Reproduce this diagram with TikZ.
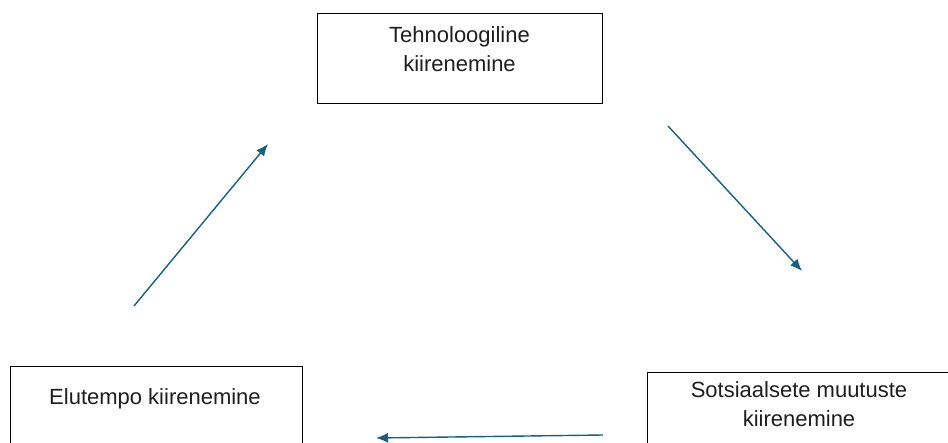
\documentclass[tikz,border=0pt]{standalone}
\usepackage{fontspec}
\setmainfont{Liberation Sans}
\usetikzlibrary{arrows.meta}
\definecolor{flowblue}{RGB}{22, 96, 130}
\definecolor{textgray}{RGB}{30, 30, 30}

\begin{document}
\begin{tikzpicture}[x=1pt, y=-1pt,
    box/.style={draw, line width=1pt, inner sep=0pt},
    lbl/.style={font=\fontsize{22}{29}\selectfont, text=textgray, align=center, anchor=base, inner sep=0pt},
    flow/.style={draw=flowblue, line width=1.4pt, -{Latex[length=12pt, width=10pt]}}]
                    \clip (0,0) rectangle (948,443);
                    % boxes
                    \node[box, minimum width=285pt, minimum height=90pt] (tech) at (459.5,59) {};
                    \node[box, minimum width=292pt, minimum height=100pt] (life) at (156,417) {};
                    \node[box, minimum width=305pt, minimum height=100pt] (social) at (799.5,423) {};
                    \node[lbl] (techtxt) at (459.5,72) {Tehnoloogiline\\kiirenemine};
                    \node[lbl] (lifetxt) at (155,405) {Elutempo kiirenemine};
                    \node[lbl] (socialtxt) at (799,427) {Sotsiaalsete muutuste\\kiirenemine};
                    % arrows
                    \coordinate (p1) at (134,306);
                    \coordinate (q1) at (268,144);
                    \coordinate (p2) at (668,126);
                    \coordinate (q2) at (802,271);
                    \coordinate (p3) at (603,435);
                    \coordinate (q3) at (376,438);
                    \draw[flow] (p1) -- (q1);
                    \draw[flow] (p2) -- (q2);
                    \draw[flow] (p3) -- (q3);
                \end{tikzpicture}
\end{document}
